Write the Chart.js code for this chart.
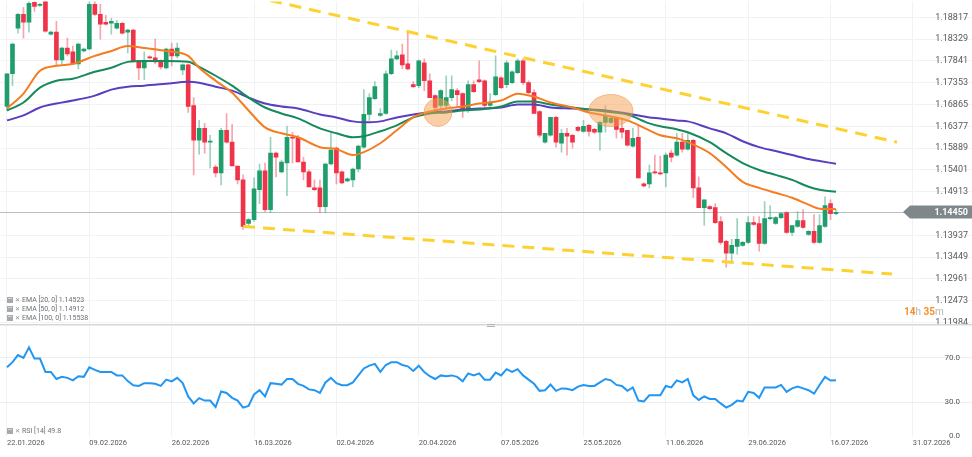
<!DOCTYPE html>
<html><head><meta charset="utf-8">
<script src="https://cdn.jsdelivr.net/npm/chart.js@4.4.1/dist/chart.umd.min.js"></script>
<style>
html,body{margin:0;padding:0;background:#fff;width:972px;height:457px;overflow:hidden}
#wrap{position:relative;width:972px;height:457px}
canvas{position:absolute;left:0;display:block}
#c1{top:0}
#c2{top:324px}
</style></head><body>
<div id="wrap"><canvas id="c1" width="972" height="324"></canvas><canvas id="c2" width="972" height="133"></canvas></div>
<script>
const xTickIndex=[0,15,30,45,60,75,90,105,120,135,150,165];
const xTickLabels=['22.01.2026','09.02.2026','26.02.2026','16.03.2026','02.04.2026','20.04.2026','07.05.2026','25.05.2026','11.06.2026','29.06.2026','16.07.2026','31.07.2026'];
const yTickValues=[1.18817,1.18329,1.17841,1.17353,1.16865,1.16377,1.15889,1.15401,1.14913,1.13937,1.13449,1.12961,1.12473,1.11984];
const rsiTickValues=[0,30,70];

const opens=[1.16820,1.17552,1.18573,1.18883,1.18706,1.19150,1.19083,1.19200,1.18439,1.18484,
1.17863,1.18129,1.18041,1.17774,1.18063,1.18107,1.19105,1.18883,1.18706,1.18684,
1.18573,1.18684,1.18484,1.18528,1.17841,1.17686,1.17930,1.17908,1.17841,1.17686,
1.18107,1.17952,1.17641,1.17752,1.16842,1.16065,1.16331,1.16021,1.15466,1.15333,
1.16287,1.16021,1.15489,1.15178,1.14201,1.14290,1.14956,1.15378,1.14512,1.15777,
1.15356,1.15555,1.16132,1.16132,1.15578,1.15356,1.15000,1.15000,1.14579,1.15533,
1.15888,1.15356,1.15156,1.15178,1.15422,1.15910,1.16642,1.16997,1.16620,1.16664,
1.17552,1.17885,1.17974,1.17774,1.17308,1.17286,1.17797,1.17397,1.17064,1.16842,
1.16842,1.17020,1.17175,1.17108,1.16731,1.17308,1.17419,1.17397,1.16842,1.17086,
1.17464,1.17308,1.17353,1.17575,1.17841,1.17353,1.17130,1.16709,1.16021,1.16176,
1.16576,1.15998,1.16220,1.16176,1.16353,1.16265,1.16398,1.16309,1.16243,1.16465,
1.16465,1.16553,1.16331,1.16287,1.15932,1.16132,1.15089,1.15089,1.15356,1.15333,
1.15333,1.15777,1.15733,1.16021,1.15866,1.16065,1.15000,1.14556,1.14579,1.14556,
1.14246,1.13802,1.13536,1.13691,1.13713,1.13779,1.14223,1.14201,1.13757,1.14312,
1.14201,1.14334,1.14445,1.14001,1.14135,1.14268,1.13957,1.14024,1.13779,1.14135,
1.14645,1.14423];
const highs=[1.17552,1.18240,1.18906,1.19039,1.19250,1.19220,1.19128,1.19250,1.18506,1.18728,
1.18151,1.18351,1.18173,1.18240,1.18129,1.19220,1.19220,1.19105,1.18861,1.18795,
1.18750,1.18706,1.18550,1.18550,1.17841,1.18041,1.17952,1.18328,1.17863,1.18129,
1.18240,1.18240,1.17774,1.17774,1.17020,1.16509,1.16442,1.16176,1.15511,1.16331,
1.16664,1.16420,1.15489,1.15289,1.14312,1.15222,1.15533,1.15555,1.16132,1.15799,
1.15622,1.16376,1.16243,1.16176,1.15688,1.15400,1.15178,1.15178,1.15555,1.16220,
1.15910,1.15378,1.15222,1.15444,1.15954,1.17197,1.17108,1.17375,1.16775,1.17619,
1.18085,1.18063,1.18217,1.18462,1.17375,1.17863,1.17885,1.17552,1.17086,1.17197,
1.17508,1.17508,1.17219,1.17130,1.17397,1.17397,1.17841,1.17419,1.17108,1.17952,
1.17486,1.17841,1.17619,1.17885,1.17885,1.17397,1.17197,1.16731,1.16220,1.16576,
1.16598,1.16309,1.16331,1.16198,1.16376,1.16509,1.16420,1.16331,1.16487,1.16842,
1.16576,1.16576,1.16553,1.16287,1.16331,1.16398,1.15111,1.15511,1.15733,1.15711,
1.15777,1.15844,1.16220,1.16220,1.16220,1.16087,1.15244,1.14734,1.14601,1.14645,
1.14357,1.13824,1.13846,1.14312,1.13802,1.14357,1.14357,1.14357,1.14690,1.14601,
1.14357,1.14445,1.14468,1.14157,1.14468,1.14512,1.14046,1.14401,1.14401,1.14801,
1.14734,1.14512];
const lows=[1.16731,1.17286,1.18462,1.18351,1.18484,1.18950,1.19061,1.18484,1.18417,1.17752,
1.17774,1.17952,1.17774,1.17663,1.18041,1.18085,1.18861,1.18328,1.18639,1.18439,
1.18550,1.18439,1.18019,1.17819,1.17419,1.17419,1.17885,1.17774,1.17663,1.17663,
1.17730,1.17908,1.17530,1.16687,1.15289,1.15755,1.15777,1.15444,1.15244,1.15067,
1.15998,1.15489,1.15089,1.14068,1.14135,1.14246,1.14645,1.14468,1.14445,1.15244,
1.15333,1.14823,1.15555,1.15578,1.15178,1.15023,1.14934,1.14445,1.14445,1.15511,
1.15089,1.15089,1.15134,1.15023,1.15356,1.15888,1.16509,1.16975,1.16598,1.16642,
1.17530,1.17863,1.17663,1.17641,1.17242,1.17242,1.17175,1.17020,1.16731,1.16664,
1.16775,1.16953,1.16798,1.16576,1.16687,1.17130,1.17353,1.16798,1.16820,1.17064,
1.17219,1.17242,1.17330,1.17552,1.17308,1.17108,1.16664,1.16132,1.15998,1.16154,
1.15910,1.15799,1.15733,1.15888,1.16265,1.16243,1.16154,1.16220,1.15844,1.16243,
1.16442,1.16110,1.16110,1.15932,1.15910,1.15222,1.15023,1.15000,1.15311,1.15289,
1.15023,1.15578,1.15711,1.15799,1.15844,1.14778,1.14556,1.14157,1.14512,1.14201,
1.13735,1.13225,1.13336,1.13514,1.13691,1.13757,1.14157,1.13580,1.13735,1.14290,
1.14179,1.14312,1.13979,1.13935,1.14112,1.14090,1.13935,1.13757,1.13757,1.14112,
1.14290,1.14401];
const closes=[1.17552,1.18217,1.18883,1.18706,1.19128,1.19061,1.19105,1.18506,1.18484,1.17863,
1.18129,1.17996,1.17774,1.18217,1.18107,1.19105,1.18883,1.18661,1.18661,1.18728,
1.18684,1.18462,1.18528,1.17841,1.17686,1.17841,1.17908,1.17819,1.17708,1.18107,
1.17952,1.18129,1.17752,1.16820,1.16065,1.16331,1.16021,1.16043,1.15333,1.16287,
1.16021,1.15489,1.15178,1.14135,1.14290,1.14978,1.15378,1.14512,1.15777,1.15688,
1.15578,1.16132,1.16110,1.15578,1.15356,1.15023,1.14956,1.14579,1.15533,1.15844,
1.15333,1.15111,1.15200,1.15422,1.15932,1.16642,1.17020,1.17264,1.16664,1.17552,
1.17885,1.17952,1.17752,1.17663,1.17264,1.17841,1.17397,1.17020,1.16798,1.17175,
1.17020,1.17197,1.17086,1.16731,1.17308,1.17153,1.17375,1.16842,1.16909,1.17486,
1.17242,1.17797,1.17597,1.17841,1.17353,1.17130,1.16664,1.16176,1.16220,1.16576,
1.16021,1.16220,1.16154,1.16021,1.16287,1.16376,1.16265,1.16243,1.16465,1.16598,
1.16553,1.16309,1.16243,1.15954,1.16110,1.15222,1.15045,1.15333,1.15333,1.15311,
1.15733,1.15688,1.16021,1.15866,1.16065,1.15000,1.14556,1.14734,1.14534,1.14223,
1.13779,1.13536,1.13713,1.13846,1.13779,1.14223,1.14179,1.13757,1.14312,1.14334,
1.14334,1.14423,1.14001,1.14157,1.14268,1.14112,1.14024,1.13779,1.14157,1.14601,
1.14423,1.14450];

const emaIdx=[0,3,6,9,12,16,19,22,25,29,33,35,38,41,44,47,50,53,57,60,63,65,68,71,74,77,80,83,86,90,93,96,99,103,106,109,113,117,119,122,124,128,131,134,137,140,143,146,148,151];
const ema20=[1.16775,1.17108,1.17619,1.17730,1.17774,1.17952,1.18063,1.18173,1.18129,1.18063,
1.17952,1.17686,1.17397,1.17130,1.16731,1.16353,1.16220,1.16132,1.15910,1.15866,
1.15733,1.15799,1.15998,1.16287,1.16576,1.16709,1.16775,1.16820,1.16886,1.16953,
1.17108,1.17042,1.16909,1.16798,1.16687,1.16620,1.16509,1.16287,1.16176,1.16110,
1.16021,1.15777,1.15466,1.15134,1.15000,1.14889,1.14778,1.14623,1.14534,1.14523];
const ema50=[1.16731,1.16909,1.17242,1.17397,1.17441,1.17597,1.17686,1.17819,1.17841,1.17841,
1.17819,1.17708,1.17508,1.17286,1.17020,1.16798,1.16664,1.16553,1.16331,1.16220,
1.16132,1.16154,1.16265,1.16398,1.16576,1.16664,1.16687,1.16731,1.16753,1.16820,
1.16931,1.16931,1.16864,1.16798,1.16753,1.16709,1.16642,1.16442,1.16376,1.16309,
1.16243,1.16021,1.15777,1.15555,1.15400,1.15289,1.15178,1.15023,1.14956,1.14912];
const ema100=[1.16509,1.16620,1.16798,1.16886,1.16953,1.17064,1.17197,1.17264,1.17286,1.17330,
1.17375,1.17353,1.17264,1.17175,1.17020,1.16886,1.16820,1.16775,1.16642,1.16576,
1.16487,1.16465,1.16487,1.16576,1.16642,1.16687,1.16709,1.16753,1.16775,1.16798,
1.16864,1.16864,1.16798,1.16775,1.16753,1.16731,1.16664,1.16576,1.16553,1.16509,
1.16487,1.16331,1.16220,1.16043,1.15910,1.15822,1.15733,1.15644,1.15600,1.15538];

const rsiValues=[61.3,65.9,72.2,69.7,79.1,69.1,69.1,57.2,57.2,50.9,
52.8,51.9,49.7,53.4,52.8,61.3,59.1,57.2,57.2,57.2,
54.1,54.1,49.0,45.3,44.7,47.2,47.2,46.6,44.7,50.3,
48.8,51.9,47.2,35.3,29.1,33.8,31.6,31.6,25.9,39.7,
38.4,34.1,31.6,25.3,26.9,37.2,40.9,35.3,47.2,46.6,
45.9,50.9,50.9,46.6,44.7,41.6,40.9,38.4,47.8,51.9,
47.2,45.3,45.3,47.8,54.1,60.3,62.8,64.4,57.2,63.4,
65.9,65.9,63.4,62.2,58.1,62.8,57.2,53.4,50.9,54.1,
53.4,54.1,52.8,48.8,55.9,54.1,55.9,50.3,50.3,56.6,
54.1,59.7,57.2,59.7,54.1,50.3,46.6,40.3,40.9,45.9,
40.3,42.5,42.2,40.9,44.1,45.6,44.7,44.7,47.8,50.9,
49.7,45.6,44.7,40.3,43.4,31.6,30.9,36.3,36.3,36.3,
44.7,43.4,49.7,47.8,50.9,36.3,32.2,35.3,33.1,33.1,
29.1,25.3,27.8,31.6,30.9,39.4,38.4,34.1,43.4,43.4,
43.4,45.6,39.4,42.5,44.1,42.5,40.9,37.8,45.6,52.8,
49.5,49.8];

const trendUpperX=[47.9,162.1], trendUpperY=[1.19194,1.16021];
const trendLowerX=[43.0,161.2], trendLowerY=[1.14135,1.13070];
const markerX=[78.5,110.0], markerY=[1.16687,1.16731];

const X_MIN=-1.275, X_MAX=175.77;
const GREEN='#1f9e6c', RED='#ef3349';
const GREEN_W='rgba(31,158,108,0.45)', RED_W='rgba(239,51,73,0.45)';
const FONT='Roboto, Arial, sans-serif';

const idx=opens.map((_,i)=>i);
const isUp=idx.map(i=>closes[i]>=opens[i]);

const overlayMain={
  id:'overlayMain',
  beforeDatasetsDraw(chart){
    const {ctx,scales:{y},chartArea}=chart;
    const py=Math.round(y.getPixelForValue(closes[closes.length-1]))+0.5;
    ctx.save();
    ctx.strokeStyle='#b9c0c4';ctx.lineWidth=1;
    ctx.beginPath();ctx.moveTo(chartArea.left,py);ctx.lineTo(chartArea.right,py);ctx.stroke();
    ctx.restore();
  },
  afterDatasetsDraw(chart){
    const {ctx,scales:{x,y}}=chart;
    ctx.save();
    const radii=[[14,14],[22,16]];
    markerX.forEach((mx,k)=>{
      const px=x.getPixelForValue(mx), py=y.getPixelForValue(markerY[k]);
      ctx.beginPath();ctx.ellipse(px,py,radii[k][0],radii[k][1],0,0,Math.PI*2);
      ctx.fillStyle='rgba(245,160,80,0.5)';ctx.fill();
      ctx.strokeStyle='rgba(240,150,70,0.55)';ctx.lineWidth=1;ctx.stroke();
    });
    ctx.restore();
  },
  afterDraw(chart){
    const {ctx,scales:{y}}=chart;
    const last=closes[closes.length-1];
    const py=Math.round(y.getPixelForValue(last));
    ctx.save();
    // price tag
    ctx.fillStyle='#7f878b';
    ctx.beginPath();
    ctx.moveTo(903,py);ctx.lineTo(910,py-6.5);ctx.lineTo(972,py-6.5);ctx.lineTo(972,py+6.5);ctx.lineTo(910,py+6.5);ctx.closePath();ctx.fill();
    ctx.fillStyle='#fff';ctx.font='bold 9px '+FONT;ctx.textAlign='right';ctx.textBaseline='middle';
    ctx.fillText(last.toFixed(5),968,py+0.5);
    // countdown
    ctx.textAlign='left';ctx.font='bold 10px '+FONT;
    let cx=904;const cy=312;
    [['14','#f4902a'],['h','#b5b5b5'],[' 35','#f4902a'],['m','#b5b5b5']].forEach(([t,c])=>{
      ctx.fillStyle=c;ctx.font=(c==='#b5b5b5'?'10px ':'bold 10px ')+FONT;ctx.fillText(t,cx,cy);cx+=ctx.measureText(t).width;
    });
    // EMA legend
    const rows=[['EMA [20, 0] ',ema20],['EMA [50, 0] ',ema50],['EMA [100, 0] ',ema100]];
    rows.forEach(([t,arr],k)=>{
      const ly=300+k*9;
      ctx.fillStyle='#a4a9ad';ctx.fillRect(7,ly-3,6,6);
      ctx.fillStyle='#d7dadc';ctx.fillRect(8,ly-2,4,1);
      ctx.fillStyle='#8a8f93';ctx.font='6px '+FONT;ctx.fillText('✕',15,ly+0.5);
      ctx.fillStyle='#6b7074';ctx.font='7px '+FONT;ctx.fillText(t+arr[arr.length-1].toFixed(5),22,ly+0.5);
    });
    ctx.restore();
  }
};

const overlayRsi={
  id:'overlayRsi',
  afterDraw(chart){
    const {ctx}=chart;
    ctx.save();
    ctx.fillStyle='#d3d7da';ctx.fillRect(0,0,972,1.5);
    ctx.fillStyle='#b0b5b8';ctx.fillRect(487,0,8,1);ctx.fillRect(487,2,8,1);
    const ly=107;
    ctx.fillStyle='#a4a9ad';ctx.fillRect(7,ly-3,6,6);
    ctx.fillStyle='#d7dadc';ctx.fillRect(8,ly-2,4,1);
    ctx.textBaseline='middle';ctx.textAlign='left';
    ctx.fillStyle='#8a8f93';ctx.font='6px '+FONT;ctx.fillText('✕',15,ly+0.5);
    ctx.fillStyle='#6b7074';ctx.font='7px '+FONT;ctx.fillText('RSI [14] '+rsiValues[rsiValues.length-1].toFixed(1),22,ly+0.5);
    ctx.restore();
  }
};

const xScaleBase=()=>({
  type:'linear',min:X_MIN,max:X_MAX,offset:false,
  afterBuildTicks:s=>{s.ticks=xTickIndex.map(v=>({value:v}));},
  grid:{color:'#f0f2f3',drawTicks:false,offset:false},
  border:{display:false}
});

new Chart(document.getElementById('c1'),{
  type:'bar',
  data:{datasets:[
    {type:'line',label:'trendUpper',data:trendUpperX.map((v,k)=>({x:v,y:trendUpperY[k]})),borderColor:'#fdd230',borderWidth:3,borderDash:[12,8],pointRadius:0,order:0},
    {type:'line',label:'trendLower',data:trendLowerX.map((v,k)=>({x:v,y:trendLowerY[k]})),borderColor:'#fdd230',borderWidth:3,borderDash:[12,8],pointRadius:0,order:0},
    {type:'line',label:'EMA20',data:emaIdx.map((v,k)=>({x:v,y:ema20[k]})),borderColor:'#f57c1f',borderWidth:2,pointRadius:0,cubicInterpolationMode:'monotone',order:1},
    {type:'line',label:'EMA50',data:emaIdx.map((v,k)=>({x:v,y:ema50[k]})),borderColor:'#168a5b',borderWidth:2,pointRadius:0,cubicInterpolationMode:'monotone',order:1},
    {type:'line',label:'EMA100',data:emaIdx.map((v,k)=>({x:v,y:ema100[k]})),borderColor:'#5b3ec0',borderWidth:2,pointRadius:0,cubicInterpolationMode:'monotone',order:1},
    {type:'bar',label:'body',data:idx.map(i=>({x:i,y:[opens[i],closes[i]]})),backgroundColor:idx.map(i=>isUp[i]?GREEN:RED),barThickness:4,minBarLength:1,grouped:false,borderWidth:0,order:2},
    {type:'bar',label:'wick',data:idx.map(i=>({x:i,y:[lows[i],highs[i]]})),backgroundColor:idx.map(i=>isUp[i]?GREEN_W:RED_W),barThickness:1,grouped:false,borderWidth:0,order:3}
  ]},
  options:{
    responsive:false,animation:false,devicePixelRatio:1,
    layout:{padding:0},
    plugins:{legend:{display:false},tooltip:{enabled:false}},
    scales:{
      x:Object.assign(xScaleBase(),{ticks:{display:false},afterFit:s=>{s.height=0;}}),
      y:{type:'linear',position:'right',min:1.11984,max:1.19172,beginAtZero:false,
        afterBuildTicks:s=>{s.ticks=yTickValues.map(v=>({value:v}));},
        ticks:{mirror:true,padding:-4,autoSkip:false,color:'#555a5e',font:{size:9,family:FONT},callback:v=>Number(v).toFixed(5)},
        grid:{color:'#f0f2f3',drawTicks:false},border:{display:false},
        afterFit:s=>{s.width=0;}}
    }
  },
  plugins:[overlayMain]
});

new Chart(document.getElementById('c2'),{
  type:'line',
  data:{datasets:[
    {label:'RSI',data:rsiValues.map((v,i)=>({x:i,y:v})),borderColor:'#2196f3',borderWidth:2,pointRadius:0,tension:0}
  ]},
  options:{
    responsive:false,animation:false,devicePixelRatio:1,
    layout:{padding:0},
    plugins:{legend:{display:false},tooltip:{enabled:false}},
    scales:{
      x:Object.assign(xScaleBase(),{
        ticks:{align:'start',padding:3,maxRotation:0,autoSkip:false,color:'#555a5e',font:{size:7.5,family:FONT},callback:(v,i)=>xTickLabels[i]},
        afterFit:s=>{s.height=21;}}),
      y:{type:'linear',position:'right',min:0,max:100,
        afterBuildTicks:s=>{s.ticks=rsiTickValues.map(v=>({value:v}));},
        ticks:{mirror:true,padding:-12,autoSkip:false,color:'#555a5e',font:{size:8,family:FONT},callback:v=>Number(v).toFixed(1)},
        grid:{color:c=>(c.tick&&c.tick.value===0)?'rgba(0,0,0,0)':'#eceff1',drawTicks:false},border:{display:false},
        afterFit:s=>{s.width=0;}}
    }
  },
  plugins:[overlayRsi]
});
</script>
</body></html>
